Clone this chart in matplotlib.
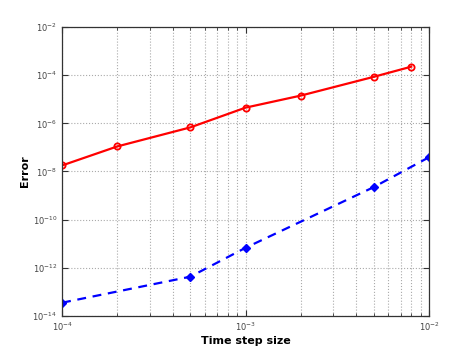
import matplotlib
matplotlib.use('Agg')
import matplotlib.pyplot as plt
import matplotlib.ticker as mticker
import numpy as np

# data (log10 values)
red_dt = [1e-4, 2e-4, 5e-4, 1e-3, 2e-3, 5e-3, 8e-3]
red_err = [10**-7.75, 10**-6.96, 10**-6.17, 10**-5.35, 10**-4.85, 10**-4.07, 10**-3.65]
blue_dt = [1e-4, 5e-4, 1e-3, 5e-3, 1e-2]
blue_err = [10**-13.45, 10**-12.37, 10**-11.17, 10**-8.65, 10**-7.41]

fig = plt.figure(figsize=(4.74, 3.55), dpi=100)
ax = fig.add_axes([0.131, 0.110, 0.774, 0.814])

ax.loglog(red_dt, red_err, '-o', color='red', lw=1.6, ms=4.5,
          mfc='none', mew=1.3)
ax.loglog(blue_dt, blue_err, '--D', color='blue', lw=1.6, ms=4,
          mfc='blue', mew=1.0, dashes=(4, 3))

ax.set_xlim(1e-4, 1e-2)
ax.set_ylim(1e-14, 1e-2)
ax.yaxis.set_major_locator(mticker.FixedLocator([10.0**k for k in range(-14, -1, 2)]))
ax.yaxis.set_minor_locator(mticker.NullLocator())
ax.xaxis.set_major_locator(mticker.FixedLocator([1e-4, 1e-3, 1e-2]))
ax.xaxis.set_minor_locator(mticker.LogLocator(base=10, subs=np.arange(2, 10), numticks=20))
ax.xaxis.set_minor_formatter(mticker.NullFormatter())

ax.grid(True, which='major', linestyle=':', color='#aaaaaa', lw=0.8)
ax.grid(True, which='minor', axis='x', linestyle=':', color='#aaaaaa', lw=0.8)

ax.tick_params(which='both', direction='in', top=True, right=True,
               labelsize=6, colors='#333333', labelcolor='#444444')
ax.tick_params(which='major', length=4)
ax.tick_params(which='minor', length=2)
for s in ax.spines.values():
    s.set_color('#333333')
    s.set_linewidth(0.9)

ax.set_xlabel('Time step size', fontsize=8, fontweight='bold', labelpad=2)
ax.set_ylabel('Error', fontsize=8, fontweight='bold', labelpad=2)

plt.savefig('out.png', dpi=100)
